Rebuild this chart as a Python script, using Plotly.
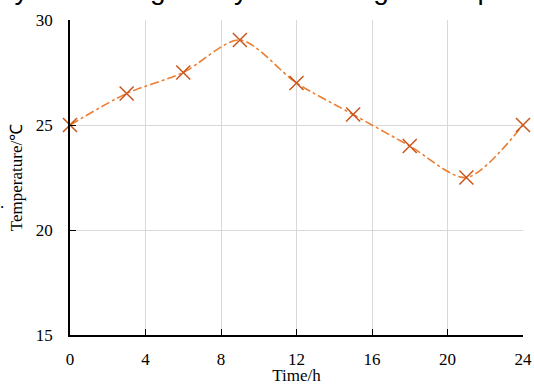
import plotly.graph_objects as go

time_h = [0, 3, 6, 9, 12, 15, 18, 21, 24]
temperature = [25.0, 26.5, 27.5, 29.05, 27.0, 25.5, 24.0, 22.5, 25.0]
x_ticks = [0, 4, 8, 12, 16, 20, 24]
y_ticks = [15, 20, 25, 30]

fig = go.Figure()
fig.add_trace(go.Scatter(
    x=time_h, y=temperature, mode="lines+markers",
    line=dict(color="#ED7D31", width=1.6, dash="dashdot", shape="spline", smoothing=0.8),
    marker=dict(symbol="x-thin", size=14, line=dict(color="#C8561A", width=1.5), color="#C8561A"),
    showlegend=False, cliponaxis=False,
))

font = dict(family="Liberation Serif, Times New Roman, serif", color="black")
fig.update_layout(
    width=534, height=385,
    margin=dict(l=70, r=11, t=20, b=50),
    paper_bgcolor="white", plot_bgcolor="white",
    font=dict(**font, size=17),
    xaxis=dict(range=[0, 24], tickvals=x_ticks, showgrid=True, gridcolor="#D9D9D9", gridwidth=1,
               showline=True, linecolor="black", linewidth=1.5, ticks="inside", ticklen=6,
               tickcolor="black", zeroline=False, automargin=False, ticklabelstandoff=8,
               title=dict(text="Time/h", font=dict(size=17), standoff=3)),
    yaxis=dict(range=[15, 30], tickvals=y_ticks, showgrid=True, gridcolor="#D9D9D9", gridwidth=1,
               showline=True, linecolor="black", linewidth=1.5, ticks="inside", ticklen=6,
               tickcolor="black", zeroline=False, automargin=False, ticklabelstandoff=12,
               title=dict(text="Temperature/℃", font=dict(size=17), standoff=9)),
)
fig.add_annotation(text="by confirming the system's long-term operation", xref="paper", yref="paper",
                   x=0, y=1.0, xshift=-73, yshift=13, xanchor="left", yanchor="bottom", showarrow=False,
                   font=dict(family="Liberation Sans, Arial", size=28, color="black"))
fig.add_annotation(text=".", xref="paper", yref="paper", x=0, xshift=-68, y=0.42, xanchor="center",
                   showarrow=False, font=dict(size=17, color="black"))
fig.write_html("out.html", config={"displayModeBar": False},
               post_script="document.body.style.margin='0';document.body.style.overflow='hidden';")
